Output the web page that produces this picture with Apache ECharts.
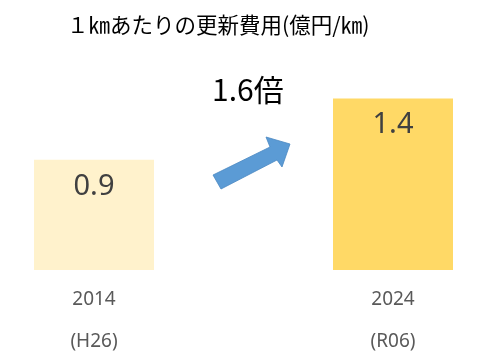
<!DOCTYPE html>
<html><head><meta charset="utf-8">
<script src="https://cdn.jsdelivr.net/npm/echarts@6/dist/echarts.min.js"></script>
<style>html,body{margin:0;padding:0;background:#fff}#c{width:492px;height:361px}</style>
</head><body><div id="c"></div>
<script>
const years = ['2014', '2024'];
const eras = ['(H26)', '(R06)'];
const values = [0.9, 1.4];
const barColors = ['#FFF2CC', '#FFD966'];
const titleText = '１㎞あたりの更新費用(億円/㎞)';
const ratioText = '1.6倍';

const chart = echarts.init(document.getElementById('c'), null, {renderer: 'canvas'});
const cats = years.map((y, i) => y + '\n' + eras[i]);
chart.setOption({
  animation: false,
  backgroundColor: '#fff',
  title: {
    text: titleText, left: 62, top: 9,
    textStyle: {fontSize: 21.5, fontWeight: 'normal', color: '#000', fontFamily: '"Noto Sans CJK JP", sans-serif'}
  },
  grid: {left: -55.5, right: -50.5, top: 25, bottom: 91, containLabel: false, outerBoundsMode: 'none'},
  xAxis: {
    type: 'category', data: cats,
    axisLine: {show: false}, axisTick: {show: false},
    axisLabel: {
      margin: 9, fontSize: 19, color: '#595959', lineHeight: 42,
      fontFamily: '"Noto Sans", "Open Sans", sans-serif'
    }
  },
  yAxis: {type: 'value', min: 0, max: 2, show: false, splitLine: {show: false}},
  series: [{
    type: 'bar', barWidth: 120,
    data: values.map((v, i) => ({value: v, itemStyle: {color: barColors[i]}})),
    label: {
      show: true, position: 'insideTop', distance: 12,
      fontSize: 29, color: '#404040',
      fontFamily: '"Noto Sans", "Open Sans", sans-serif'
    }
  }],
  graphic: [
    {
      type: 'text', left: 212, top: 75,
      style: {text: ratioText, fontSize: 30, fill: '#000', fontFamily: '"Noto Sans CJK JP", sans-serif'}
    },
    {
      type: 'polygon',
      shape: {points: [[213,175],[270,147],[266,137],[290,144],[282,167],[277,160],[221,189]]},
      style: {fill: '#5B9BD5', stroke: '#4A88C2', lineWidth: 0.8}
    }
  ]
});
</script></body></html>
